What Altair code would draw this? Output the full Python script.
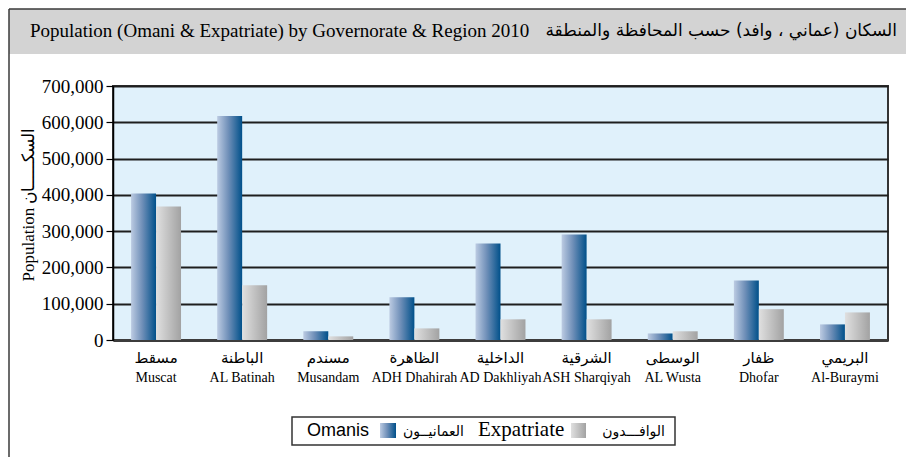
import altair as alt
import pandas as pd

# ---- data ----
regions_en = ["Muscat", "AL Batinah", "Musandam", "ADH Dhahirah", "AD Dakhliyah",
              "ASH Sharqiyah", "AL Wusta", "Dhofar", "Al-Buraymi"]
regions_ar = ["مسقط", "الباطنة", "مسندم", "الظاهرة", "الداخلية",
              "الشرقية", "الوسطى", "ظفار", "البريمي"]
omanis = [404000, 617000, 24000, 118000, 266000, 291000, 18000, 164000, 43000]
expats = [368000, 151000, 10000, 32000, 57000, 57000, 24000, 85000, 76000]
series_names = ["Omanis", "Expatriate"]
y_ticks = [0, 100000, 200000, 300000, 400000, 500000, 600000, 700000]

title_en = "Population (Omani &  Expatriate) by Governorate & Region 2010"
title_ar = "السكان (عماني ، وافد) حسب المحافظة والمنطقة"
y_title = "Population السكـــــان"
legend_ar = ["العمانيــون", "الوافـــدون"]

rows = []
for en, ar, o, e in zip(regions_en, regions_ar, omanis, expats):
    rows.append({"region": en, "arabic": ar, "series": "Omanis", "value": o})
    rows.append({"region": en, "arabic": ar, "series": "Expatriate", "value": e})
df = pd.DataFrame(rows)
labels_df = pd.DataFrame({"region": regions_en, "arabic": regions_ar})

# ---- layout ----
W, H = 775, 254
PL, PT = 113, 86
PR = 906 - PL - W
PB = 457 - PT - H

blue_grad = alt.LinearGradient(
    gradient="linear", x1=0, x2=1, y1=0, y2=0,
    stops=[alt.GradientStop(color="#bccbe2", offset=0),
           alt.GradientStop(color="#6f8fb8", offset=0.45),
           alt.GradientStop(color="#00508a", offset=1)])
grey_grad = alt.LinearGradient(
    gradient="linear", x1=0, x2=1, y1=0, y2=0,
    stops=[alt.GradientStop(color="#e0e0e0", offset=0),
           alt.GradientStop(color="#a2a2a2", offset=1)])

x_scale = alt.Scale(domain=regions_en, paddingInner=0.42, paddingOuter=0.21)
x_enc = alt.X("region:N", scale=x_scale, sort=regions_en,
              axis=alt.Axis(title=None, ticks=False, labelAngle=0,
                            labelFont="Liberation Serif", labelFontSize=14,
                            labelColor="black", labelPadding=30,
                            labelBaseline="top",
                            domainColor="#3c3c3c", domainWidth=3, grid=False))
xoff_enc = alt.XOffset("series:N",
                       scale=alt.Scale(domain=series_names, paddingInner=0, paddingOuter=0))
y_enc = alt.Y("value:Q", scale=alt.Scale(domain=[0, 700000], nice=False),
              axis=alt.Axis(values=y_ticks, format=",.0f", title=y_title,
                            labelFont="Liberation Serif", labelFontSize=19,
                            labelColor="black", labelPadding=3,
                            tickSize=7, tickColor="black", tickWidth=1.2,
                            domainColor="black", domainWidth=1.5,
                            grid=True, gridColor="#1e1e1e", gridWidth=1.8,
                            titleFont="Liberation Serif", titleFontSize=17,
                            titleFontWeight="normal", titleColor="black",
                            titleX=-85, titleY=118, titleAngle=270,
                            titleAlign="center", titleBaseline="middle"))

base = alt.Chart(df)
bars_o = base.transform_filter(alt.datum.series == "Omanis").mark_bar(
    color=blue_grad, strokeWidth=0).encode(x=x_enc, xOffset=xoff_enc, y=y_enc)
bars_e = base.transform_filter(alt.datum.series == "Expatriate").mark_bar(
    color=grey_grad, strokeWidth=0).encode(x=x_enc, xOffset=xoff_enc, y=y_enc)

ar_labels = alt.Chart(labels_df).mark_text(
    font="DejaVu Sans", fontSize=15, baseline="middle", color="black"
).encode(x=x_enc, y=alt.value(272), text="arabic:N")


def deco():
    return alt.Chart(alt.Data(values=[{"k": 1}]))


band = deco().mark_rect(color="#d3d3d3").encode(
    x=alt.value(-104), x2=alt.value(793), y=alt.value(-77), y2=alt.value(-32))
top_rule = deco().mark_rule(color="#3a3a3a", strokeWidth=1.5).encode(
    x=alt.value(-104), x2=alt.value(793), y=alt.value(-77))
left_rule = deco().mark_rule(color="#3a3a3a", strokeWidth=1.5).encode(
    x=alt.value(-104), y=alt.value(-77), y2=alt.value(371))
t_en = deco().mark_text(text=title_en, font="Liberation Serif", fontSize=19,
                        align="left", baseline="middle", color="black").encode(
    x=alt.value(-83), y=alt.value(-55))
t_ar = deco().mark_text(text=title_ar, font="DejaVu Sans", fontSize=17,
                        align="right", baseline="middle", color="black").encode(
    x=alt.value(784), y=alt.value(-55))

leg_box = deco().mark_rect(fill="white", stroke="#333333", strokeWidth=1.5).encode(
    x=alt.value(179), x2=alt.value(562), y=alt.value(331), y2=alt.value(359))
leg_t1 = deco().mark_text(text=series_names[0], font="Liberation Sans", fontSize=18,
                          align="left", baseline="middle", color="black").encode(
    x=alt.value(194), y=alt.value(345))
leg_s1 = deco().mark_rect(color=blue_grad).encode(
    x=alt.value(267), x2=alt.value(283), y=alt.value(337), y2=alt.value(352))
leg_a1 = deco().mark_text(text=legend_ar[0], font="DejaVu Sans", fontSize=14,
                          align="right", baseline="middle", color="black").encode(
    x=alt.value(351), y=alt.value(346))
leg_t2 = deco().mark_text(text=series_names[1], font="Liberation Serif", fontSize=21,
                          align="left", baseline="middle", color="black").encode(
    x=alt.value(365), y=alt.value(344))
leg_s2 = deco().mark_rect(color=grey_grad).encode(
    x=alt.value(458), x2=alt.value(473), y=alt.value(337), y2=alt.value(352))
leg_a2 = deco().mark_text(text=legend_ar[1], font="DejaVu Sans", fontSize=14,
                          align="right", baseline="middle", color="black").encode(
    x=alt.value(552), y=alt.value(346))

chart = alt.layer(
    band, top_rule, left_rule, t_en, t_ar,
    bars_o, bars_e, ar_labels,
    leg_box, leg_t1, leg_s1, leg_a1, leg_t2, leg_s2, leg_a2
).properties(
    width=W, height=H,
    autosize=alt.AutoSizeParams(type="none"),
    padding={"left": PL, "top": PT, "right": PR, "bottom": PB},
    background="white",
).configure_view(
    fill="#e0f1fb", stroke="#333333", strokeWidth=2
)

chart.save("out.html", embed_options={"renderer": "svg", "actions": False})
